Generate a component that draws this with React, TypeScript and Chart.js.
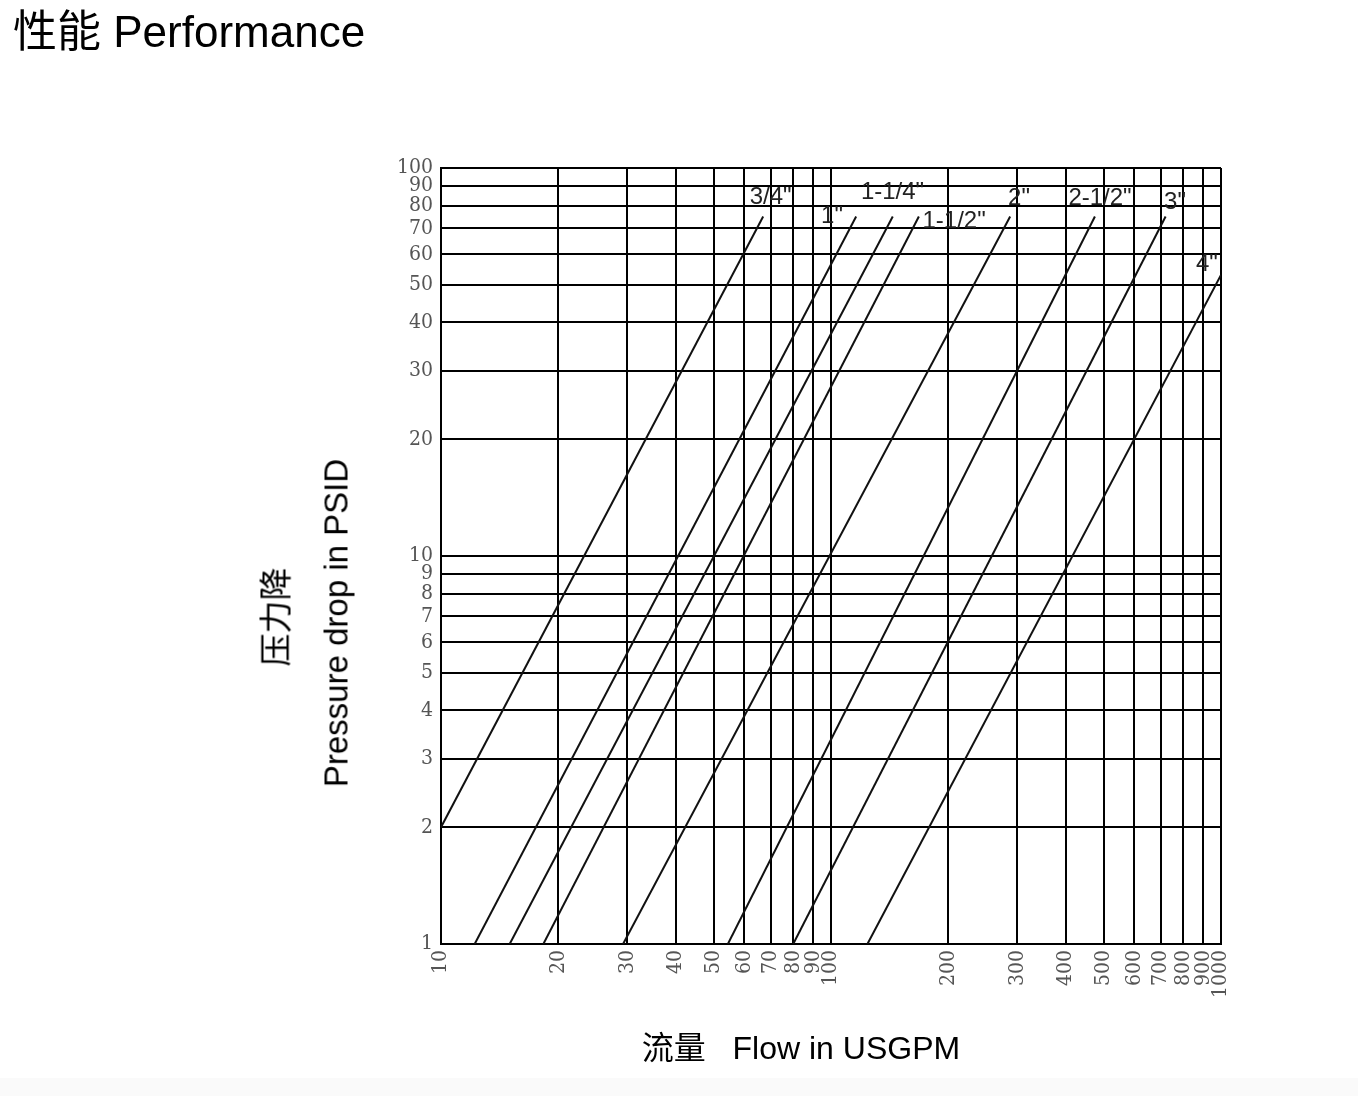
import React, { useEffect, useRef } from "react";
import { Chart, registerables } from "chart.js";

Chart.register(...registerables);

// Pipe sizes (one straight line each on the log-log chart)
const SIZES = ['3/4"', '1"', '1-1/4"', '1-1/2"', '2"', '2-1/2"', '3"', '4"'];
// Start and end of each line (flow USGPM, pressure drop PSID)
const FLOW_START = [10, 12.2, 15.0, 18.3, 29.3, 54.4, 80, 124];
const PSID_START = [2, 1, 1, 1, 1, 1, 1, 1];
const FLOW_END = [67, 116, 144, 168, 288, 475, 721, 1000];
const PSID_END = [75, 75, 75, 75, 75, 75, 75, 53];
// Where each size label sits (data coordinates)
const LABEL_FLOW = [70, 100.6, 143.8, 206.8, 303.4, 489.5, 762, 920];
const LABEL_PSID = [83.9, 75.2, 86.5, 73.0, 83.7, 83.7, 81.5, 56.6];
// Tick labels
const X_TICKS = [10, 20, 30, 40, 50, 60, 70, 80, 90, 100, 200, 300, 400, 500, 600, 700, 800, 900, 1000];
const Y_TICKS = [1, 2, 3, 4, 5, 6, 7, 8, 9, 10, 20, 30, 40, 50, 60, 70, 80, 90, 100];

const SANS = "'Liberation Sans', Arial, 'Noto Sans CJK SC', sans-serif";
const TICK_FONT = "'DejaVu Serif Condensed', 'DejaVu Serif', 'Liberation Serif', serif";

const sizeLabels = {
  id: "sizeLabels",
  afterDatasetsDraw(chart: any) {
    const { ctx } = chart;
    const xs = chart.scales.x;
    const ys = chart.scales.y;
    ctx.save();
    ctx.font = `24px ${SANS}`;
    ctx.fillStyle = "#222";
    ctx.textAlign = "center";
    ctx.textBaseline = "middle";
    SIZES.forEach((s, i) => {
      ctx.fillText(s, xs.getPixelForValue(LABEL_FLOW[i]), ys.getPixelForValue(LABEL_PSID[i]));
    });
    ctx.restore();
  },
};

export default function App() {
  const ref = useRef<HTMLCanvasElement | null>(null);

  useEffect(() => {
    if (!ref.current) return;
    const datasets = SIZES.map((s, i) => ({
      label: s,
      data: [
        { x: FLOW_START[i], y: PSID_START[i] },
        { x: FLOW_END[i], y: PSID_END[i] },
      ],
      showLine: true,
      borderColor: "#111",
      borderWidth: 2,
      pointRadius: 0,
      fill: false,
    }));

    const tickFont = { family: TICK_FONT, size: 21 };

    const chart = new Chart(ref.current, {
      type: "scatter",
      data: { datasets },
      options: {
        animation: false,
        responsive: false,
        devicePixelRatio: 1,
        layout: { padding: { top: 168, right: 137, left: 0, bottom: 0 } },
        plugins: { legend: { display: false }, tooltip: { enabled: false }, title: { display: false } },
        scales: {
          x: {
            type: "logarithmic",
            min: 10,
            max: 1000,
            position: "bottom",
            grid: { color: "#000", lineWidth: 2, drawTicks: false },
            border: { color: "#000", width: 2 },
            ticks: {
              autoSkip: false,
              minRotation: 90,
              maxRotation: 90,
              padding: 6,
              color: "#555",
              font: tickFont,
              callback: (v: any) => String(v),
            },
            afterBuildTicks: (s: any) => {
              s.ticks = X_TICKS.map((v) => ({ value: v }));
            },
            afterFit: (s: any) => {
              s.height = 152;
            },
          },
          y: {
            type: "logarithmic",
            min: 1,
            max: 100,
            grid: { color: "#000", lineWidth: 2, drawTicks: false },
            border: { color: "#000", width: 2 },
            ticks: {
              autoSkip: false,
              padding: 8,
              color: "#555",
              font: tickFont,
              callback: (v: any) => String(v),
            },
            afterBuildTicks: (s: any) => {
              s.ticks = Y_TICKS.map((v) => ({ value: v }));
            },
            afterFit: (s: any) => {
              s.width = 441;
            },
          },
        },
      },
      plugins: [sizeLabels],
    } as any);

    return () => chart.destroy();
  }, []);

  return (
    <div
      style={{
        position: "absolute",
        left: 0,
        top: 0,
        width: 1358,
        height: 1096,
        background: "#fff",
        overflow: "hidden",
      }}
    >
      <div style={{ position: "absolute", left: 0, top: 1078, width: 1358, height: 18, background: "#fafafa" }} />
      <canvas
        ref={ref}
        width={1358}
        height={1096}
        style={{ position: "absolute", left: 0, top: 0, width: 1358, height: 1096, display: "block" }}
      />
      <div
        style={{
          position: "absolute",
          left: 13,
          top: 10,
          fontFamily: SANS,
          fontSize: 44,
          lineHeight: "44px",
          color: "#000",
          whiteSpace: "nowrap",
        }}
      >
        性能 Performance
      </div>
      <div
        style={{
          position: "absolute",
          left: 276,
          top: 617,
          transform: "translate(-50%, -50%) rotate(-90deg)",
          fontFamily: SANS,
          fontSize: 33,
          lineHeight: "33px",
          color: "#000",
          whiteSpace: "nowrap",
        }}
      >
        压力降
      </div>
      <div
        style={{
          position: "absolute",
          left: 336,
          top: 623,
          transform: "translate(-50%, -50%) rotate(-90deg)",
          fontFamily: SANS,
          fontSize: 33,
          lineHeight: "33px",
          color: "#000",
          whiteSpace: "nowrap",
        }}
      >
        Pressure drop in PSID
      </div>
      <div
        style={{
          position: "absolute",
          left: 801,
          top: 1032,
          transform: "translateX(-50%)",
          fontFamily: SANS,
          fontSize: 32,
          lineHeight: "32px",
          color: "#000",
          whiteSpace: "pre",
        }}
      >
        {"流量   Flow in USGPM"}
      </div>
    </div>
  );
}
